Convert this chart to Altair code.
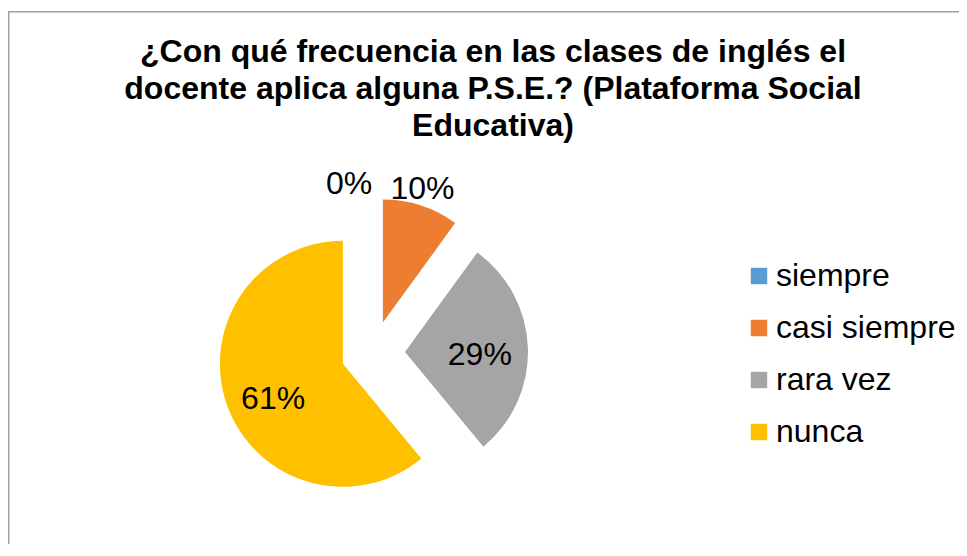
import altair as alt
import pandas as pd

categories = ["siempre", "casi siempre", "rara vez", "nunca"]
percents = [0, 10, 29, 61]
colors = ["#5B9BD5", "#ED7D31", "#A5A5A5", "#FFC000"]
title_lines = [
    "¿Con qué frecuencia en las clases de inglés el",
    "docente aplica alguna P.S.E.? (Plataforma Social",
    "Educativa)",
]

W, H = 951, 536
CX, CY = 365, 345
EXPLODE = 32
R = 123
R_IN = 75
R_OUT = 141
FONT = "Liberation Sans, Arial, sans-serif"

df = pd.DataFrame({"cat": categories, "pct": percents, "order": list(range(len(categories)))})

base = (
    alt.Chart(df)
    .transform_window(cum="sum(pct)", sort=[alt.SortField("order")], frame=[None, 0])
    .transform_joinaggregate(total="sum(pct)")
    .transform_calculate(start="(datum.cum - datum.pct) / datum.total")
    .transform_calculate(end="datum.cum / datum.total")
    .transform_calculate(mid="PI * (datum.start + datum.end)")
    .transform_calculate(cx=f"{CX} + {EXPLODE} * sin(datum.mid)")
    .transform_calculate(cy=f"{CY} - {EXPLODE} * cos(datum.mid)")
    .transform_calculate(label="format(datum.pct / datum.total, '.0%')")
    .transform_calculate(inside="datum.pct / datum.total >= 0.15")
    .transform_calculate(lr=f"datum.inside ? {R_IN} : {R_OUT}")
    .transform_calculate(la="datum.pct == 0 ? datum.mid - 0.17 : datum.mid - 0.03")
    .transform_calculate(lx="datum.cx + datum.lr * sin(datum.la)")
    .transform_calculate(ly="datum.cy - datum.lr * cos(datum.la) + (datum.inside ? 6 : 0)")
)

xs = alt.Scale(domain=[0, W], range=[0, W])
ys = alt.Scale(domain=[0, H], range=[0, H])

arcs = base.mark_arc(outerRadius=R).encode(
    x=alt.X("cx:Q", scale=xs, axis=None),
    y=alt.Y("cy:Q", scale=ys, axis=None),
    theta=alt.Theta("start:Q", scale=alt.Scale(domain=[0, 1], range=[0, 6.283185307179586])),
    theta2="end:Q",
    color=alt.Color(
        "cat:N",
        scale=alt.Scale(domain=categories, range=colors),
        legend=alt.Legend(
            title=None,
            orient="none",
            legendX=735,
            legendY=252,
            symbolType="square",
            symbolSize=270,
            symbolStrokeWidth=0,
            labelFontSize=32,
            labelFont=FONT,
            labelColor="black",
            labelLimit=0,
            rowPadding=20,
            labelOffset=1,
            padding=0,
        ),
    ),
)

labels = base.mark_text(fontSize=32, font=FONT, color="black", dy=2).encode(
    x=alt.X("lx:Q", scale=xs, axis=None),
    y=alt.Y("ly:Q", scale=ys, axis=None),
    text="label:N",
)

one = pd.DataFrame({"a": [0]})
title = alt.Chart(one).mark_text(
    text=title_lines,
    fontSize=32,
    fontWeight="bold",
    font=FONT,
    align="center",
    baseline="alphabetic",
    lineHeight=37,
    color="black",
).encode(x=alt.value(485), y=alt.value(54))

border_left = alt.Chart(one).mark_rule(color="#a0a0a0", strokeWidth=1.5).encode(
    x=alt.value(0.75), y=alt.value(3), y2=alt.value(H)
)
border_top = alt.Chart(one).mark_rule(color="#a0a0a0", strokeWidth=1.5).encode(
    x=alt.value(0), x2=alt.value(W), y=alt.value(3.75)
)

chart = (
    alt.layer(border_left, border_top, title, arcs, labels)
    .properties(width=W, height=H, autosize="none", padding=0)
    .configure_view(stroke=None)
)

chart.save("out.html", embed_options={"renderer": "svg", "actions": False})
